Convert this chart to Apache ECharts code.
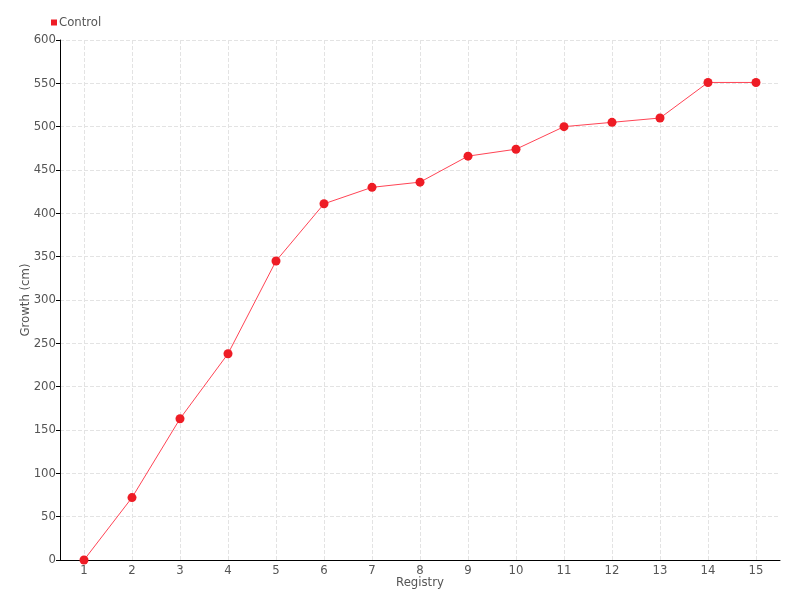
<!DOCTYPE html>
<html><head><meta charset="utf-8">
<script src="https://cdn.jsdelivr.net/npm/echarts@6/dist/echarts.min.js"></script>
<style>html,body{margin:0;padding:0;background:#fff}#c{width:800px;height:600px}</style>
</head><body><div id="c"></div>
<script>
const categories = ['1','2','3','4','5','6','7','8','9','10','11','12','13','14','15'];
const controlValues = [0, 72, 163, 238, 345, 411, 430, 436, 466, 474, 500, 505, 510, 551, 551];
const seriesName = 'Control';
const font = 'DejaVu Sans Condensed';
const chart = echarts.init(document.getElementById('c'));
chart.setOption({
  animation: false,
  textStyle: {fontFamily: font},
  legend: {
    left: 46, top: 11, itemWidth: 6, itemHeight: 6, itemGap: 5,
    icon: 'rect',
    data: [seriesName],
    textStyle: {color: '#555', fontSize: 13, fontFamily: font, padding: [0, 0, 0, -3]}
  },
  grid: {left: 60, right: 20, top: 40, bottom: 40},
  xAxis: {
    type: 'category', data: categories, boundaryGap: true,
    name: 'Registry', nameLocation: 'middle', nameGap: 16, nameMoveOverlap: false,
    nameTextStyle: {color: '#555', fontSize: 13},
    axisLine: {lineStyle: {color: '#000'}},
    axisTick: {alignWithLabel: true, length: 4, lineStyle: {color: '#000'}},
    axisLabel: {color: '#555', fontSize: 13, margin: 4},
    splitLine: {show: false}
  },
  yAxis: {
    type: 'value', min: 0, max: 600, interval: 50,
    name: 'Growth (cm)', nameLocation: 'middle', nameGap: 28, nameMoveOverlap: false,
    nameTextStyle: {color: '#555', fontSize: 13},
    axisLine: {show: true, lineStyle: {color: '#000'}},
    axisTick: {show: true, length: 4, lineStyle: {color: '#000'}},
    axisLabel: {color: '#555', fontSize: 13, margin: 4},
    splitLine: {show: true, lineStyle: {color: '#e3e3e3', type: 'dashed'}}
  },
  series: [{
    name: 'grid', type: 'line', data: [], z: 0, silent: true,
    markLine: {
      silent: true, symbol: 'none', z: 0,
      label: {show: false},
      lineStyle: {color: '#e3e3e3', type: 'dashed', width: 1},
      data: categories.map(c => ({xAxis: c}))
    }
  }, {
    name: seriesName, type: 'line', data: controlValues, z: 3,
    symbol: 'circle', symbolSize: 9,
    itemStyle: {color: '#ee1c25'},
    lineStyle: {color: '#ff4455', width: 1}
  }]
});
</script></body></html>
